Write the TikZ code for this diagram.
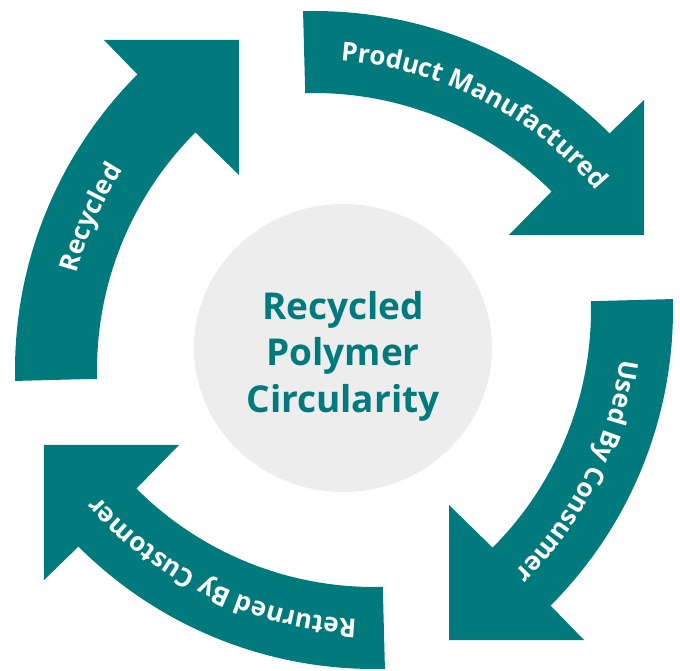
\documentclass[tikz,border=0pt]{standalone}
\usepackage{fontspec}
\setmainfont{Open Sans}
\usetikzlibrary{calc,decorations.text}
\definecolor{loopteal}{RGB}{0,122,125}
\definecolor{hubgrey}{RGB}{237,237,237}
\newcommand{\bandfont}{\fontsize{26}{30}\selectfont\bfseries}
\begin{document}
\begin{tikzpicture}[x=1pt,y=1pt]
  \useasboundingbox (-344,-331) rectangle (336,340);
  \fill[hubgrey] (-1,-8) ellipse (149 and 144);
  \node[text=loopteal,font=\fontsize{37}{46.5}\selectfont\bfseries,align=center] (hub) at (-1,-16) {Recycled\\Polymer\\Circularity};
  \foreach \turn/\word/\mid in {0/Recycled/156,-90/Product Manufactured/153,-180/Used By Consumer/153.5,-270/Returned By Customer/154.5} {
    \begin{scope}[rotate=\turn]
      \coordinate (c) at (89,-30);
      \fill[loopteal] (c) ++(181.5:418) arc[start angle=181.5,end angle=135,radius=418]
        -- (-240,300) -- (-105,300) -- (-105,165)
        -- ($(c)+(135:336)$) arc[start angle=135,end angle=181.5,radius=336] -- cycle;
      \path[decorate,decoration={text along path,text align=center,text color=white,
        text/.expanded={|\noexpand\bandfont|\word}}]
        (c) ++(\mid+60:369) arc[start angle=\mid+60,end angle=\mid-60,radius=369];
    \end{scope}
  }
\end{tikzpicture}
\end{document}
